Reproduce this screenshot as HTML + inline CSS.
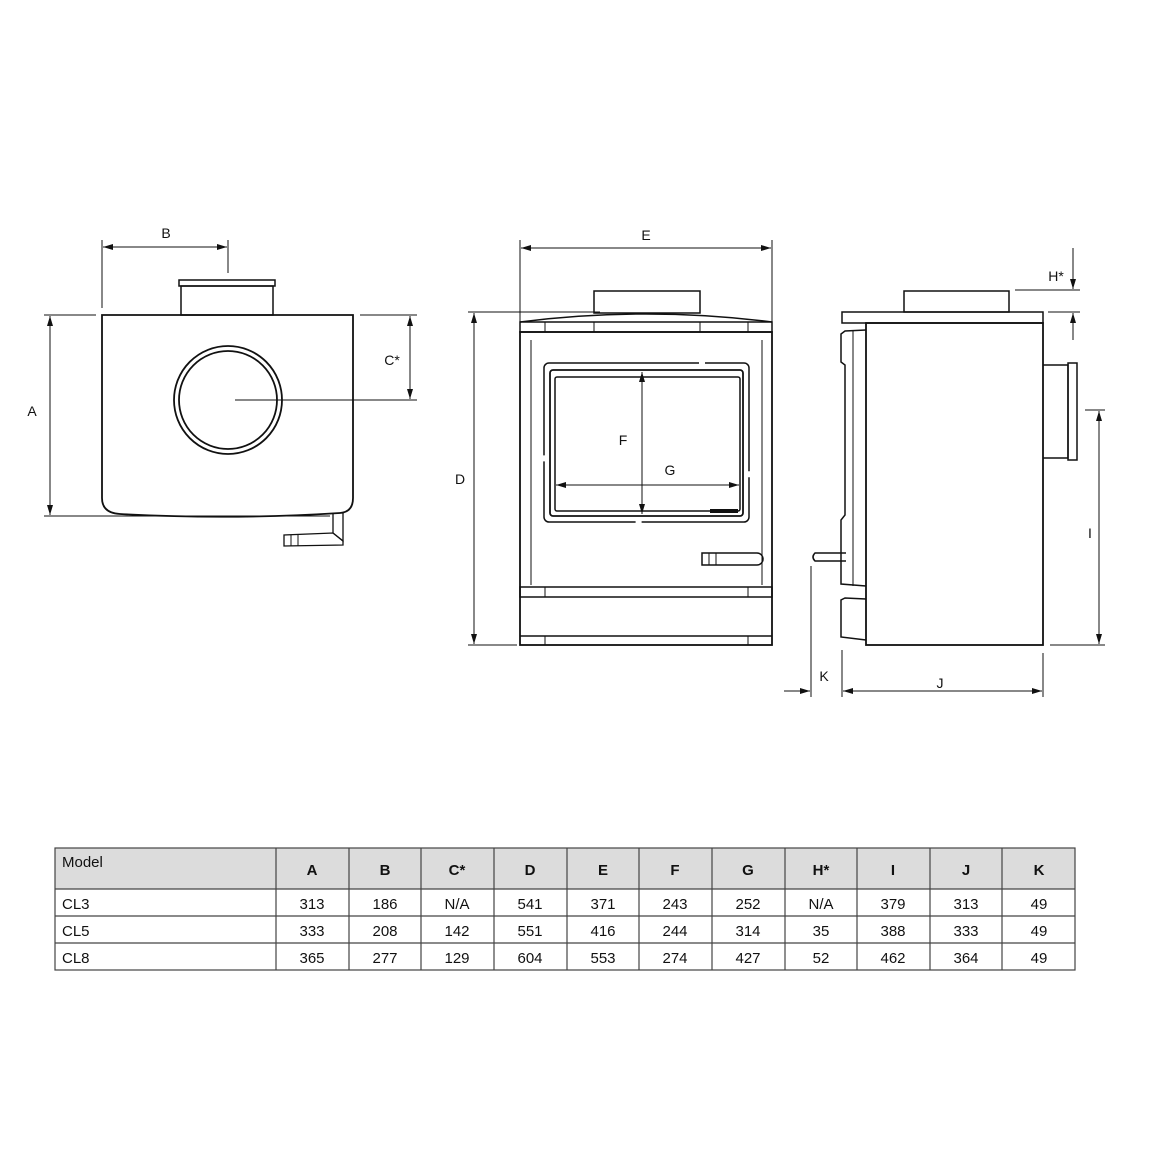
<!DOCTYPE html>
<html><head><style>
html,body{margin:0;padding:0;background:#fff;}
svg{display:block;}
text{font-family:"Liberation Sans",Arial,sans-serif;fill:#111;}
</style></head><body>
<svg width="1150" height="1150" viewBox="0 0 1150 1150" xmlns="http://www.w3.org/2000/svg">
<defs>
<marker id="ar" viewBox="0 0 10 6" refX="10" refY="3" markerWidth="10" markerHeight="6" orient="auto-start-reverse" markerUnits="userSpaceOnUse"><path d="M0,0 L10,3 L0,6 z" fill="#111"/></marker>
</defs>
<g fill="none" stroke="#111" stroke-width="1">
<!-- TOP VIEW -->
<rect x="179" y="280" width="96" height="6" stroke-width="1.5"/>
<rect x="181" y="286" width="92" height="29" stroke-width="1.5"/>
<path d="M102,315 L353,315 L353,498 Q353,512 340,513 Q230,520 120,514 Q102,513 102,498 Z" stroke-width="1.8"/>
<circle cx="228" cy="400" r="54" stroke-width="1.8"/>
<circle cx="228" cy="400" r="49" stroke-width="1.8"/>
<path d="M333,514 L333,533 L343,541 L343,513" stroke-width="1.3"/>
<path d="M343,541 L333,533 L284,535 L284,546 L343,545 Z" stroke-width="1.3"/>
<line x1="291" y1="535" x2="291" y2="546"/><line x1="298" y1="535" x2="298" y2="546"/>
<line x1="102" y1="240" x2="102" y2="308"/>
<line x1="228" y1="240" x2="228" y2="273"/>
<line x1="103" y1="247" x2="227" y2="247" marker-start="url(#ar)" marker-end="url(#ar)"/>
<line x1="44" y1="315" x2="96" y2="315"/>
<line x1="44" y1="516" x2="330" y2="516"/>
<line x1="50" y1="316" x2="50" y2="515" marker-start="url(#ar)" marker-end="url(#ar)"/>
<line x1="360" y1="315" x2="417" y2="315"/>
<line x1="235" y1="400" x2="417" y2="400"/>
<line x1="410" y1="316" x2="410" y2="399" marker-start="url(#ar)" marker-end="url(#ar)"/>

<!-- FRONT VIEW -->
<rect x="594" y="291" width="106" height="22" stroke-width="1.5"/>
<path d="M520,322 Q646,306 772,322" stroke-width="1.5"/>
<rect x="520" y="322" width="252" height="10" stroke-width="1.5"/>
<line x1="545" y1="322" x2="545" y2="332"/><line x1="594" y1="322" x2="594" y2="332"/><line x1="700" y1="322" x2="700" y2="332"/><line x1="748" y1="322" x2="748" y2="332"/>
<rect x="520" y="332" width="252" height="313" stroke-width="1.8"/>
<line x1="531" y1="340" x2="531" y2="585"/><line x1="762" y1="340" x2="762" y2="585"/>
<rect x="520" y="587" width="252" height="10" stroke-width="1.5"/>
<line x1="545" y1="587" x2="545" y2="597"/><line x1="748" y1="587" x2="748" y2="597"/>
<line x1="520" y1="636" x2="772" y2="636" stroke-width="1.5"/>
<line x1="545" y1="636" x2="545" y2="645"/><line x1="748" y1="636" x2="748" y2="645"/>
<rect x="544" y="363" width="205" height="159" rx="5" stroke-width="1.5" stroke-dasharray="150 6"/>
<rect x="550" y="370" width="193" height="146" rx="3" stroke-width="1.8"/>
<rect x="555" y="377" width="185" height="134" rx="2" stroke-width="1.5"/>
<rect x="710" y="509" width="28" height="4" fill="#111" stroke="none"/>
<line x1="642" y1="372" x2="642" y2="514" marker-start="url(#ar)" marker-end="url(#ar)"/>
<line x1="556" y1="485" x2="739" y2="485" marker-start="url(#ar)" marker-end="url(#ar)"/>
<path d="M702,553 L757,553 A6,6 0 0 1 757,565 L702,565 Z" stroke-width="1.5"/>
<line x1="709" y1="553" x2="709" y2="565"/><line x1="716" y1="553" x2="716" y2="565"/>
<line x1="520" y1="240" x2="520" y2="322"/>
<line x1="772" y1="240" x2="772" y2="322"/>
<line x1="521" y1="248" x2="771" y2="248" marker-start="url(#ar)" marker-end="url(#ar)"/>
<line x1="468" y1="312" x2="600" y2="312"/>
<line x1="468" y1="645" x2="517" y2="645"/>
<line x1="474" y1="313" x2="474" y2="644" marker-start="url(#ar)" marker-end="url(#ar)"/>

<!-- SIDE VIEW -->
<rect x="904" y="291" width="105" height="21" stroke-width="1.5"/>
<rect x="842" y="312" width="201" height="11" stroke-width="1.5"/>
<rect x="866" y="323" width="177" height="322" stroke-width="1.8"/>
<path d="M866,330 L845,331 L841,334 L841,362 L845,365 L845,515 L841,520 L841,584 L866,586" stroke-width="1.5"/>
<line x1="853" y1="331" x2="853" y2="586"/>
<path d="M866,599 L845,598 L841,600 L841,637 L866,640" stroke-width="1.5"/>
<path d="M846,553 L815,553 Q811,557 815,561 L846,561" stroke-width="1.5"/>
<path d="M1043,365 L1068,365 L1068,458 L1043,458" stroke-width="1.5"/>
<rect x="1068" y="363" width="9" height="97" stroke-width="1.5"/>
<line x1="1073" y1="248" x2="1073" y2="289" marker-end="url(#ar)"/>
<line x1="1015" y1="290" x2="1080" y2="290"/>
<line x1="1048" y1="312" x2="1080" y2="312"/>
<line x1="1073" y1="340" x2="1073" y2="313" marker-end="url(#ar)"/>
<line x1="1085" y1="410" x2="1105" y2="410"/>
<line x1="1050" y1="645" x2="1105" y2="645"/>
<line x1="1099" y1="411" x2="1099" y2="644" marker-start="url(#ar)" marker-end="url(#ar)"/>
<line x1="811" y1="566" x2="811" y2="697"/>
<line x1="842" y1="650" x2="842" y2="697"/>
<line x1="1043" y1="653" x2="1043" y2="697"/>
<line x1="784" y1="691" x2="810" y2="691" marker-end="url(#ar)"/>
<line x1="843" y1="691" x2="1042" y2="691" marker-start="url(#ar)" marker-end="url(#ar)"/>
</g>
<g font-size="14">
<text x="166" y="238" text-anchor="middle">B</text>
<text x="32" y="416" text-anchor="middle">A</text>
<text x="392" y="365" text-anchor="middle">C*</text>
<text x="646" y="240" text-anchor="middle">E</text>
<text x="460" y="484" text-anchor="middle">D</text>
<text x="623" y="445" text-anchor="middle">F</text>
<text x="670" y="475" text-anchor="middle">G</text>
<text x="1056" y="281" text-anchor="middle">H*</text>
<text x="1090" y="538" text-anchor="middle">I</text>
<text x="824" y="681" text-anchor="middle">K</text>
<text x="940" y="688" text-anchor="middle">J</text>
</g>
<!-- TABLE -->
<rect x="55" y="848" width="1020" height="41" fill="#dcdcdc"/>
<g stroke="#444" stroke-width="1.2" fill="none">
<rect x="55" y="848" width="1020" height="122"/>
<line x1="55" y1="889" x2="1075" y2="889"/>
<line x1="55" y1="916" x2="1075" y2="916"/>
<line x1="55" y1="943" x2="1075" y2="943"/>
<line x1="276" y1="848" x2="276" y2="970"/>
<line x1="349" y1="848" x2="349" y2="970"/>
<line x1="421" y1="848" x2="421" y2="970"/>
<line x1="494" y1="848" x2="494" y2="970"/>
<line x1="567" y1="848" x2="567" y2="970"/>
<line x1="639" y1="848" x2="639" y2="970"/>
<line x1="712" y1="848" x2="712" y2="970"/>
<line x1="785" y1="848" x2="785" y2="970"/>
<line x1="857" y1="848" x2="857" y2="970"/>
<line x1="930" y1="848" x2="930" y2="970"/>
<line x1="1002" y1="848" x2="1002" y2="970"/>
</g>
<g font-size="15">
<text x="62" y="867">Model</text>
<g font-weight="bold" text-anchor="middle">
<text x="312" y="875">A</text><text x="385" y="875">B</text><text x="457" y="875">C*</text><text x="530" y="875">D</text><text x="603" y="875">E</text><text x="675" y="875">F</text><text x="748" y="875">G</text><text x="821" y="875">H*</text><text x="893" y="875">I</text><text x="966" y="875">J</text><text x="1039" y="875">K</text>
</g>
<text x="62" y="909">CL3</text><text x="62" y="936">CL5</text><text x="62" y="963">CL8</text>
<g text-anchor="middle">
<text x="312" y="909">313</text><text x="385" y="909">186</text><text x="457" y="909">N/A</text><text x="530" y="909">541</text><text x="603" y="909">371</text><text x="675" y="909">243</text><text x="748" y="909">252</text><text x="821" y="909">N/A</text><text x="893" y="909">379</text><text x="966" y="909">313</text><text x="1039" y="909">49</text>
<text x="312" y="936">333</text><text x="385" y="936">208</text><text x="457" y="936">142</text><text x="530" y="936">551</text><text x="603" y="936">416</text><text x="675" y="936">244</text><text x="748" y="936">314</text><text x="821" y="936">35</text><text x="893" y="936">388</text><text x="966" y="936">333</text><text x="1039" y="936">49</text>
<text x="312" y="963">365</text><text x="385" y="963">277</text><text x="457" y="963">129</text><text x="530" y="963">604</text><text x="603" y="963">553</text><text x="675" y="963">274</text><text x="748" y="963">427</text><text x="821" y="963">52</text><text x="893" y="963">462</text><text x="966" y="963">364</text><text x="1039" y="963">49</text>
</g>
</g>
</svg>
</body></html>
